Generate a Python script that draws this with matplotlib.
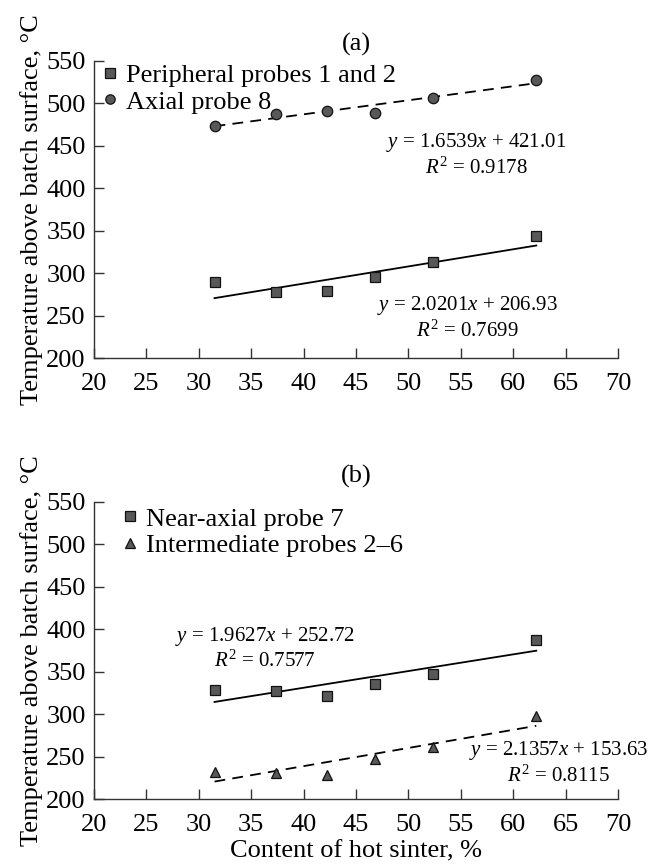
import numpy as np
import matplotlib.pyplot as plt

plt.rcParams['font.family'] = ['Liberation Serif', 'DejaVu Serif']
plt.rcParams['mathtext.fontset'] = 'custom'
plt.rcParams['mathtext.rm'] = 'Liberation Serif'
plt.rcParams['mathtext.it'] = 'Liberation Serif:italic'

# Содержание горячего агломерата, %
sinter = [31.5, 37.4, 42.2, 46.8, 52.3, 62.2]

# (a)
peripheral = [289, 277.5, 279, 296, 313, 344]
axial = [473, 487.5, 491, 488.5, 506, 528]
fit_periph = (2.0201, 206.93, 0.7699)
fit_axial = (1.6539, 421.01, 0.9178)

# (b)
near_axial = [328, 327, 321, 335.5, 347.5, 387.5]
intermediate = [232.5, 230.5, 228.5, 248, 261, 298]
fit_near = (1.9627, 252.72, 0.7577)
fit_inter = (2.1357, 153.63, 0.8115)

xticks = list(range(20, 71, 5))
yticks = list(range(200, 551, 50))

FS = 19
FS_EQ = 15

fig = plt.figure(figsize=(6.61, 8.65), dpi=100)
ax1 = fig.add_axes([0.1422, 0.5861, 0.7928, 0.3434])
ax2 = fig.add_axes([0.1422, 0.0759, 0.7928, 0.3441])

mk = dict(linestyle='none', markerfacecolor='#585858', markeredgecolor='#111111',
          markeredgewidth=0.9, color='#585858')


def trend(ax, fit, style):
    xs = np.array([sinter[0], sinter[-1]])
    ax.plot(xs, fit[0] * xs + fit[1], color='black', lw=1.3, linestyle=style,
            dashes=(6, 4) if style == '--' else (None, None), zorder=1)


def eq(ax, fit, x, y):
    ax.text(x, y, f'$y$ = {fit[0]}$x$ + {fit[1]:.2f}', ha='center', va='center', fontsize=FS_EQ)
    ax.text(x, y - 30, f'$R^2$ = {fit[2]}', ha='center', va='center', fontsize=FS_EQ)


def setup(ax, label, label_y):
    ax.set_xlim(20, 70)
    ax.set_ylim(200, 550)
    ax.set_xticks(xticks)
    ax.set_yticks(yticks)
    ax.spines['top'].set_visible(False)
    ax.spines['right'].set_visible(False)
    for s in ['left', 'bottom']:
        ax.spines[s].set_linewidth(1.0)
        ax.spines[s].set_color('#333333')
    ax.tick_params(direction='in', length=7, width=1.0, labelsize=FS, color='#333333')
    ax.tick_params(axis='x', pad=10.5)
    ax.tick_params(axis='y', pad=6)
    ax.set_ylabel('Temperature above batch surface, °C', fontsize=FS, labelpad=2)
    ax.text(45, label_y, label, ha='center', va='center', fontsize=FS)


# --- (a)
trend(ax1, fit_periph, '-')
trend(ax1, fit_axial, '--')
ax1.plot(sinter, peripheral, marker='s', markersize=7.5, label='Peripheral probes 1 and 2', **mk)
ax1.plot(sinter, axial, marker='o', markersize=7.5, label='Axial probe 8', **mk)
setup(ax1, '(a)', 569)
eq(ax1, fit_axial, 56.5, 454)
eq(ax1, fit_periph, 55.6, 262)
ax1.legend(loc='upper left', bbox_to_anchor=(-0.015, 1.045), frameon=False, fontsize=FS,
           handlelength=0.6, handletextpad=0.3, labelspacing=0.12, borderaxespad=0.2,
           markerscale=0.9)

# --- (b)
trend(ax2, fit_near, '-')
trend(ax2, fit_inter, '--')
ax2.plot(sinter, near_axial, marker='s', markersize=7.5, label='Near-axial probe 7', **mk)
ax2.plot(sinter, intermediate, marker='^', markersize=7.5, label='Intermediate probes 2–6', **mk)
setup(ax2, '(b)', 580)
ax2.set_xlabel('Content of hot sinter, %', fontsize=FS, labelpad=3)
eq(ax2, fit_near, 36.3, 392)
eq(ax2, fit_inter, 64.3, 257)
ax2.legend(loc='upper left', bbox_to_anchor=(0.023, 1.035), frameon=False, fontsize=FS,
           handlelength=0.6, handletextpad=0.3, labelspacing=0.12, borderaxespad=0.2,
           markerscale=0.9)

fig.savefig('out.png', dpi=100)
